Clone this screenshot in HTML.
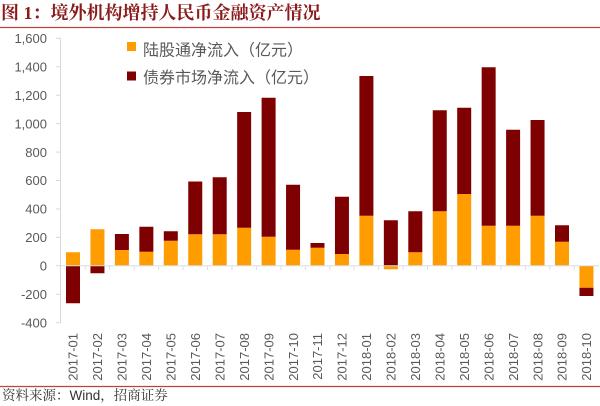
<!DOCTYPE html>
<html><head><meta charset="utf-8"><style>
html,body{margin:0;padding:0;background:#fff;}
svg{display:block;}
</style></head><body>
<svg width="600" height="406" viewBox="0 0 600 406" xmlns="http://www.w3.org/2000/svg">
<rect width="600" height="406" fill="#fff"/>
<text x="1" y="19" font-family="'Liberation Serif','Noto Serif CJK SC',serif" font-weight="bold" font-size="18" fill="#8B1A1A">图 1：境外机构增持人民币金融资产情况</text>
<path d="M0 27.5H600M0 386.5H600" stroke="#B8463F" stroke-width="1.2" fill="none"/>
<text x="2" y="400" font-family="'Liberation Sans','Noto Serif CJK SC',serif" font-size="13.5" fill="#333">资料来源：Wind，招商证券</text>
<path stroke="#D9D9D9" stroke-width="1" fill="none" d="M60.5 38V323M56 38.3h4.5M56 66.7h4.5M56 95.2h4.5M56 123.6h4.5M56 152.1h4.5M56 180.5h4.5M56 209h4.5M56 237.4h4.5M56 265.8h4.5M56 294.2h4.5M56 322.7h4.5"/>
<g font-family="'Liberation Sans',sans-serif" font-size="13" fill="#595959" text-anchor="end">
<text x="47" y="43">1,600</text>
<text x="47" y="71.4">1,400</text>
<text x="47" y="99.9">1,200</text>
<text x="47" y="128.3">1,000</text>
<text x="47" y="156.8">800</text>
<text x="47" y="185.2">600</text>
<text x="47" y="213.7">400</text>
<text x="47" y="242.1">200</text>
<text x="47" y="270.5">0</text>
<text x="47" y="298.9">-200</text>
<text x="47" y="327.4">-400</text>
</g>
<path fill="#FF9C00" d="M66 252.3h14v13.5h-14zM90.45 229.3h14v36.5h-14zM114.9 250h14v15.8h-14zM139.35 251.7h14v14.1h-14zM163.8 240.7h14v25.1h-14zM188.25 234.3h14v31.5h-14zM212.7 234.3h14v31.5h-14zM237.15 227.7h14v38.1h-14zM261.6 236.7h14v29.1h-14zM286.05 249.7h14v16.1h-14zM310.5 247.7h14v18.1h-14zM334.95 254h14v11.8h-14zM359.4 215.7h14v50.1h-14zM383.85 265.8h14v3.5h-14zM408.3 252.3h14v13.5h-14zM432.75 211.3h14v54.5h-14zM457.2 194h14v71.8h-14zM481.65 225.7h14v40.1h-14zM506.1 225.7h14v40.1h-14zM530.55 215.7h14v50.1h-14zM555 241.7h14v24.1h-14zM579.45 265.8h14v21.9h-14z"/>
<path fill="#7F0000" d="M66 265.8h14v37.5h-14zM90.45 265.8h14v7.5h-14zM114.9 234h14v16h-14zM139.35 226.7h14v25h-14zM163.8 231.3h14v9.4h-14zM188.25 181.5h14v52.8h-14zM212.7 177.3h14v57h-14zM237.15 112h14v115.7h-14zM261.6 97.7h14v139h-14zM286.05 184.7h14v65h-14zM310.5 243h14v4.7h-14zM334.95 196.7h14v57.3h-14zM359.4 76h14v139.7h-14zM383.85 220.3h14v45.5h-14zM408.3 211.3h14v41h-14zM432.75 110.3h14v101h-14zM457.2 107.7h14v86.3h-14zM481.65 67.3h14v158.4h-14zM506.1 129.7h14v96h-14zM530.55 120h14v95.7h-14zM555 225.3h14v16.4h-14zM579.45 287.7h14v8.3h-14z"/>
<path stroke="#D9DEE8" stroke-width="1" fill="none" d="M60.5 265.8H599M85.25 265.8v4.2M109.7 265.8v4.2M134.15 265.8v4.2M158.6 265.8v4.2M183.05 265.8v4.2M207.5 265.8v4.2M231.95 265.8v4.2M256.4 265.8v4.2M280.85 265.8v4.2M305.3 265.8v4.2M329.75 265.8v4.2M354.2 265.8v4.2M378.65 265.8v4.2M403.1 265.8v4.2M427.55 265.8v4.2M452 265.8v4.2M476.45 265.8v4.2M500.9 265.8v4.2M525.35 265.8v4.2M549.8 265.8v4.2M574.25 265.8v4.2"/>
<g font-family="'Liberation Sans',sans-serif" font-size="13" fill="#595959" text-anchor="end">
<text transform="translate(77.7,333) rotate(-90)">2017-01</text>
<text transform="translate(102.15,333) rotate(-90)">2017-02</text>
<text transform="translate(126.6,333) rotate(-90)">2017-03</text>
<text transform="translate(151.05,333) rotate(-90)">2017-04</text>
<text transform="translate(175.5,333) rotate(-90)">2017-05</text>
<text transform="translate(199.95,333) rotate(-90)">2017-06</text>
<text transform="translate(224.4,333) rotate(-90)">2017-07</text>
<text transform="translate(248.85,333) rotate(-90)">2017-08</text>
<text transform="translate(273.3,333) rotate(-90)">2017-09</text>
<text transform="translate(297.75,333) rotate(-90)">2017-10</text>
<text transform="translate(322.2,333) rotate(-90)">2017-11</text>
<text transform="translate(346.65,333) rotate(-90)">2017-12</text>
<text transform="translate(371.1,333) rotate(-90)">2018-01</text>
<text transform="translate(395.55,333) rotate(-90)">2018-02</text>
<text transform="translate(420,333) rotate(-90)">2018-03</text>
<text transform="translate(444.45,333) rotate(-90)">2018-04</text>
<text transform="translate(468.9,333) rotate(-90)">2018-05</text>
<text transform="translate(493.35,333) rotate(-90)">2018-06</text>
<text transform="translate(517.8,333) rotate(-90)">2018-07</text>
<text transform="translate(542.25,333) rotate(-90)">2018-08</text>
<text transform="translate(566.7,333) rotate(-90)">2018-09</text>
<text transform="translate(591.15,333) rotate(-90)">2018-10</text>
</g>
<rect x="127" y="42" width="9" height="9" fill="#FF9C00"/>
<rect x="127" y="71.5" width="9" height="9" fill="#7F0000"/>
<g font-family="'Liberation Sans','Noto Sans CJK SC',sans-serif" font-size="16" fill="#595959">
<text x="143" y="55.5">陆股通净流入（亿元）</text>
<text x="143" y="83">债券市场净流入（亿元）</text>
</g>
</svg>
</body></html>
